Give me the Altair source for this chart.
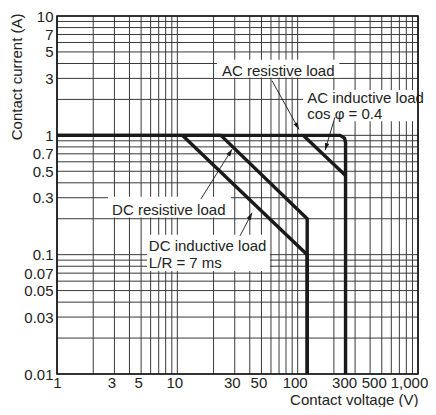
import math
import altair as alt
import pandas as pd

# ---------------- data (voltage in V, current in A)
ac_res_v = [1, 225, 245, 250, 250]
ac_res_a = [1, 1, 0.95, 0.87, 0.01]
ac_ind_v = [111, 250]
ac_ind_a = [1, 0.46]
dc_res_v = [1, 23, 120, 120]
dc_res_a = [1, 1, 0.2, 0.01]
dc_ind_v = [11, 120, 120]
dc_ind_a = [1, 0.1, 0.01]

x_ticks = [1, 3, 5, 10, 30, 50, 100, 300, 500, 1000]
y_ticks = [0.01, 0.03, 0.05, 0.07, 0.1, 0.3, 0.5, 0.7, 1, 3, 5, 7, 10]

# annotation texts and anchors (left edge, middle)
label_text = ["AC resistive load", "AC inductive load", "cos \u03c6 = 0.4",
              "DC resistive load", "DC inductive load", "L/R = 7 ms"]
label_v = [23.5, 120, 120, 2.87, 5.8, 5.8]
label_a = [3.48, 2.07, 1.50, 0.237, 0.119, 0.0857]

# white label boxes
box_v1 = [21.4, 110.8, 2.65, 5.6]
box_v2 = [222, 985, 27.9, 58.9]
box_a1 = [3.05, 1.31, 0.205, 0.073]
box_a2 = [4.3, 2.4, 0.305, 0.147]

# leader arrows (from -> to)
arr_v1 = [61.2, 204, 15.7, 33.2]
arr_a1 = [2.87, 1.42, 0.293, 0.144]
arr_v2 = [102.6, 169, 28.5, 41.8]
arr_a2 = [1.12, 0.75, 0.765, 0.224]

W, H = 361, 358
FONT = "Liberation Sans"
INK = "#1a1a1a"

x_grid = [m * 10 ** e for e in range(0, 3) for m in range(1, 10)] + [1000]
y_grid = [m * 10.0 ** e for e in (-2, -1, 0) for m in range(1, 10)] + [10]

xs = alt.Scale(type="log", domain=[1, 1000], nice=False)
ys = alt.Scale(type="log", domain=[0.01, 10], nice=False)

x_label_shift = {"condition": [
    {"test": "datum.value >= 1000", "value": -9},
    {"test": "datum.value >= 500", "value": -8},
    {"test": "datum.value >= 300", "value": -11},
    {"test": "datum.value <= 1", "value": 0},
], "value": -3}

x_axis = alt.Axis(values=x_ticks, format=",d", grid=False, ticks=False, domain=False,
                  labelFont=FONT, labelFontSize=15, labelColor="#222", labelPadding=1,
                  labelOverlap=False, labelFlush=False, labelOffset=x_label_shift,
                  title="Contact voltage (V)", titleFont=FONT,
                  titleFontSize=15, titleFontWeight="normal", titleColor="#222",
                  titleX=W, titleY=30, titleAlign="right", titleBaseline="alphabetic")
y_axis = alt.Axis(values=y_ticks, format="~g", grid=False, ticks=False, domain=False,
                  labelFont=FONT, labelFontSize=15, labelColor="#222", labelPadding=4,
                  labelOverlap=False, labelFlush=False, title="Contact current (A)",
                  titleFont=FONT, titleFontSize=15, titleFontWeight="normal",
                  titleColor="#222", titleX=-36, titleY=-3, titleAlign="right",
                  titleAngle=270, titleBaseline="alphabetic")

X = alt.X("v:Q", scale=xs, axis=x_axis)
Y = alt.Y("a:Q", scale=ys, axis=y_axis)

vgrid = alt.Chart(pd.DataFrame({"v": x_grid})).mark_rule(
    color="#3a3a3a", strokeWidth=1).encode(x=X)
hgrid = alt.Chart(pd.DataFrame({"a": y_grid})).mark_rule(
    color="#3a3a3a", strokeWidth=1).encode(y=Y)

rows = []
for name, vs, as_ in [("ac_res", ac_res_v, ac_res_a), ("ac_ind", ac_ind_v, ac_ind_a),
                      ("dc_res", dc_res_v, dc_res_a), ("dc_ind", dc_ind_v, dc_ind_a)]:
    for i, (v, a) in enumerate(zip(vs, as_)):
        rows.append({"s": name, "o": i, "v": v, "a": a})
lines = alt.Chart(pd.DataFrame(rows)).mark_line(
    color=INK, strokeWidth=3.4, strokeJoin="miter", strokeCap="butt").encode(
    x=X, y=Y, detail="s:N", order="o:Q")

boxes = alt.Chart(pd.DataFrame({"v": box_v1, "v2": box_v2, "a": box_a1, "a2": box_a2})).mark_rect(
    color="white").encode(x=X, x2="v2:Q", y=Y, y2="a2:Q")

kx, ky = W / 3.0, H / 3.0
angs = []
for v1, a1, v2, a2 in zip(arr_v1, arr_a1, arr_v2, arr_a2):
    dx = (math.log10(v2) - math.log10(v1)) * kx
    dy = -(math.log10(a2) - math.log10(a1)) * ky
    angs.append(math.degrees(math.atan2(dx, -dy)) % 360)
arr_df = pd.DataFrame({"v": arr_v1, "a": arr_a1, "v2": arr_v2, "a2": arr_a2, "ang": angs})
arr_lines = alt.Chart(arr_df).mark_rule(color=INK, strokeWidth=0.9).encode(
    x=X, y=Y, x2="v2:Q", y2="a2:Q")
heads = alt.Chart(arr_df).mark_point(
    shape="M0,0L0.32,1L-0.32,1Z", filled=True, size=200, color=INK, opacity=1).encode(
    x=alt.X("v2:Q", scale=xs, axis=x_axis), y=alt.Y("a2:Q", scale=ys, axis=y_axis),
    angle=alt.Angle("ang:Q", scale=None))

texts = alt.Chart(pd.DataFrame({"v": label_v, "a": label_a, "t": label_text})).mark_text(
    align="left", baseline="middle", font=FONT, fontSize=15, color="#222").encode(
    x=X, y=Y, text="t:N")

frame = alt.Chart(pd.DataFrame({"k": [0]})).mark_rect(
    filled=False, stroke="#111", strokeWidth=1.6).encode(
    x=alt.value(0), x2=alt.value(W), y=alt.value(0), y2=alt.value(H))

chart = alt.layer(vgrid, hgrid, lines, boxes, arr_lines, heads, texts, frame).properties(
    width=W, height=H,
    autosize=alt.AutoSizeParams(type="none"),
    padding={"left": 49, "top": 8, "right": 10, "bottom": 33},
).configure_view(stroke=None)

chart.save("out.html", embed_options={"renderer": "svg", "actions": False})
